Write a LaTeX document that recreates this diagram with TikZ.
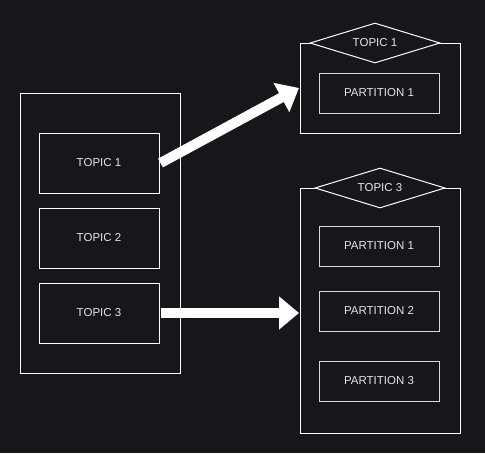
\documentclass[tikz,border=0pt]{standalone}
\usepackage{fontspec}
\setmainfont{Liberation Sans}
\usetikzlibrary{shapes.geometric,arrows.meta}
\definecolor{bg}{HTML}{18161B}
\definecolor{txt}{HTML}{E4E4E4}
\definecolor{pline}{HTML}{D8D8D8}
\begin{document}
\begin{tikzpicture}[x=1pt,y=-1pt,
  box/.style={draw=white,line width=1pt,fill=bg,minimum width=120pt,minimum height=60pt,inner sep=0pt,text=txt,font=\fontsize{11.5}{13}\selectfont},
  part/.style={draw=pline,line width=1pt,fill=bg,minimum width=120pt,minimum height=40pt,inner sep=0pt,text=txt,font=\fontsize{11.5}{13}\selectfont},
  cont/.style={draw=white,line width=1pt,inner sep=0pt},
  dia/.style={diamond,draw=white,line width=1pt,fill=bg,inner sep=0pt,minimum width=130pt,minimum height=40pt,aspect=3.25,text=txt,font=\fontsize{11.5}{13}\selectfont},
  bigarrow/.style={draw=white,line width=10pt,-{Triangle[length=20pt,width=32pt]}}]
\fill[bg] (0,0) rectangle (485,453);
\useasboundingbox (0,0) rectangle (485,453);
% left container
\node[cont,minimum width=160pt,minimum height=280pt] (left) at (100,233) {};
\node[box] (t1) at (99,163) {TOPIC 1};
\node[box] (t2) at (99,238) {TOPIC 2};
\node[box] (t3) at (99,313) {TOPIC 3};
% right top container
\node[cont,minimum width=160pt,minimum height=90pt] (rc1) at (380,88) {};
\node[dia] (d1) at (375,43) {TOPIC 1};
\node[part] (p11) at (379,93) {PARTITION 1};
% right bottom container
\node[cont,minimum width=160pt,minimum height=245pt] (rc3) at (380,310.5) {};
\node[dia] (d3) at (380,188) {TOPIC 3};
\node[part] (p31) at (379,246) {PARTITION 1};
\node[part] (p32) at (379,311) {PARTITION 2};
\node[part] (p33) at (379,381) {PARTITION 3};
% arrows
\coordinate (a1) at (299,88);
\coordinate (a3) at (299,313);
\draw[bigarrow] (t1.east) ++(1,0) -- (a1);
\draw[bigarrow] (t3.east) ++(1,0) -- (a3);
\end{tikzpicture}
\end{document}
